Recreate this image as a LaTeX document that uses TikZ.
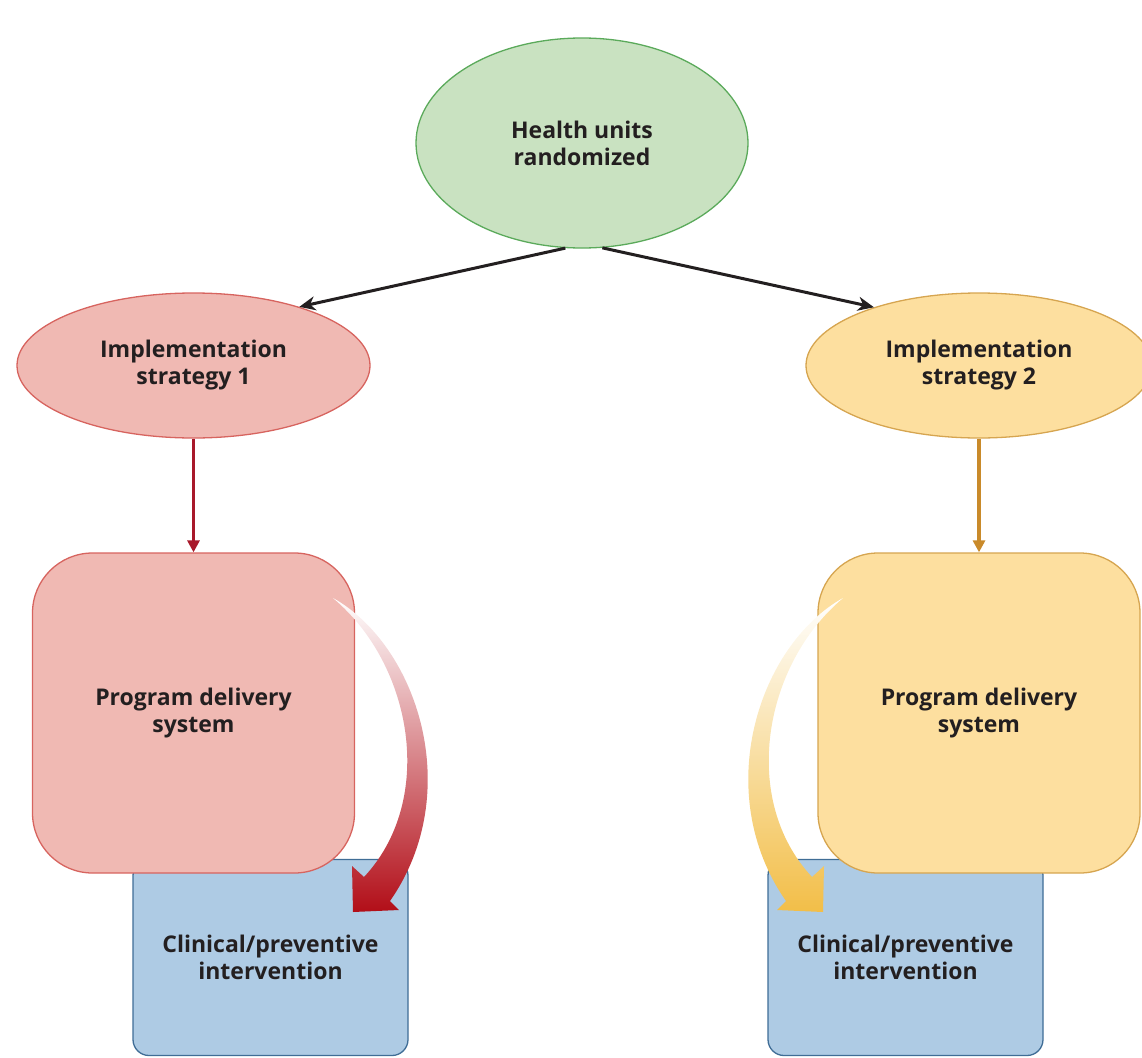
\documentclass[tikz,border=0pt]{standalone}
\usepackage{fontspec}
\setmainfont{Open Sans}
\usetikzlibrary{shapes.geometric,arrows.meta}

\definecolor{txt}{HTML}{231F20}
\definecolor{greenfill}{HTML}{C9E2C1}
\definecolor{greenline}{HTML}{5BAA5B}
\definecolor{redfill}{HTML}{F0B9B3}
\definecolor{redline}{HTML}{D7645F}
\definecolor{yelfill}{HTML}{FDDF9F}
\definecolor{yelline}{HTML}{D6A550}
\definecolor{bluefill}{HTML}{AECBE4}
\definecolor{blueline}{HTML}{3F6D96}
\definecolor{redarrow}{HTML}{A8182A}
\definecolor{yelarrow}{HTML}{C98A2A}

\tikzset{
  lbl/.style={text=txt, font=\fontsize{23}{27}\selectfont\bfseries, align=center},
  oval/.style={ellipse, lbl, draw, line width=1.3pt, inner sep=0pt},
  progbox/.style={rectangle, rounded corners=60pt, lbl, draw, line width=1.3pt,
    minimum width=322pt, minimum height=320pt, inner sep=0pt},
  clinbox/.style={rectangle, rounded corners=16pt, lbl, draw=blueline, fill=bluefill,
    line width=1.3pt, minimum width=275pt, minimum height=196pt, inner sep=0pt},
  splitarrow/.style={draw=txt, line width=3pt,
    -{Stealth[length=16pt,width=14pt,inset=5pt]}},
  downarrow/.style={line width=3.2pt, -{Triangle[length=12pt,width=12pt]}},
}

\begin{document}
\begin{tikzpicture}[x=1pt,y=-1pt]
\useasboundingbox (0,0) rectangle (1142,1057);

% intervention boxes sit behind the delivery systems
\node[clinbox] (c1) at (270.5,957.5) {Clinical/preventive\\intervention};
\node[clinbox] (c2) at (905.5,957.5) {Clinical/preventive\\intervention};

% delivery systems
\node[progbox, fill=redfill, draw=redline] (p1) at (193.5,713) {Program delivery\\system};
\node[progbox, fill=yelfill, draw=yelline] (p2) at (979,713) {Program delivery\\system};

% randomisation and strategies
\node[oval, fill=greenfill, draw=greenline, minimum width=332pt, minimum height=210pt]
  (top) at (582,143) {Health units\\randomized};
\node[oval, fill=redfill, draw=redline, minimum width=353pt, minimum height=145pt]
  (s1) at (193.5,365.5) {Implementation\\strategy 1};
\node[oval, fill=yelfill, draw=yelline, minimum width=346pt, minimum height=145pt]
  (s2) at (979,365.5) {Implementation\\strategy 2};

% connectors
\draw[splitarrow] (top.261) -- (s1.29);
\draw[splitarrow] (top.281) -- (s2.151);
\draw[downarrow, draw=redarrow, fill=redarrow] (s1.south) -- (p1.north);
\draw[downarrow, draw=yelarrow, fill=yelarrow] (s2.south) -- (p2.north);

% tapered, fading arrows from each delivery system into its intervention
\shade[top color=white, middle color={rgb,255:red,214;green,112;blue,90},
       bottom color={rgb,255:red,178;green,14;blue,24}]
  (333,598) .. controls (417,645) and (466,792) .. (390,901)
  -- (399,910) -- (353,912) -- (352,866) -- (364,877)
  .. controls (436,800) and (413,665) .. (333,598) -- cycle;
\shade[top color=white, middle color={rgb,255:red,246;green,210;blue,130},
       bottom color={rgb,255:red,242;green,190;blue,72}]
  (843,598) .. controls (759,645) and (710,792) .. (786,901)
  -- (777,910) -- (823,912) -- (824,866) -- (812,877)
  .. controls (740,800) and (763,665) .. (843,598) -- cycle;
\end{tikzpicture}
\end{document}
